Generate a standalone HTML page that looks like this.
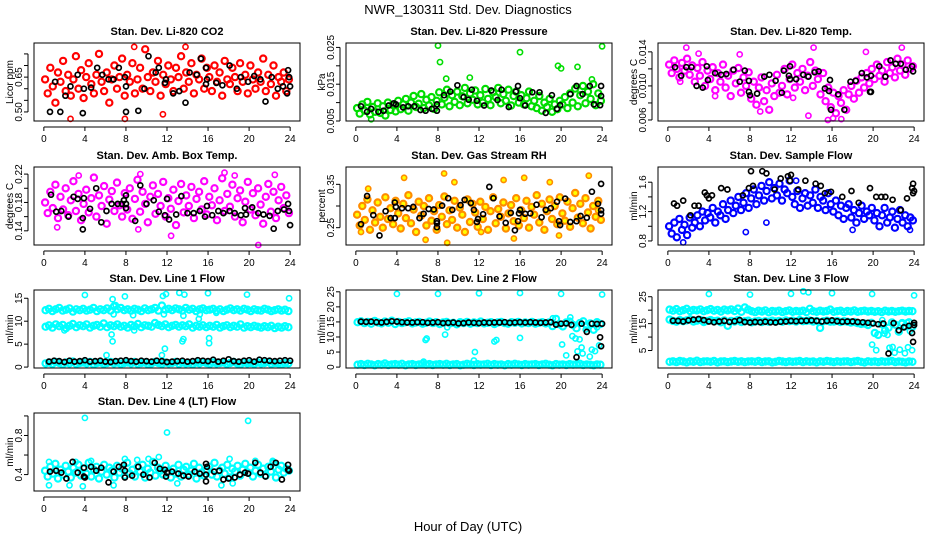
<!DOCTYPE html>
<html><head><meta charset="utf-8"><style>
html,body{margin:0;padding:0;background:#fff;}
svg{display:block;font-family:"Liberation Sans",sans-serif;}
</style></head><body>
<svg id="chart" width="936" height="540" viewBox="0 0 936 540" xmlns="http://www.w3.org/2000/svg">
<rect x="0" y="0" width="936" height="540" fill="#fff"/>
<text x="468" y="14" text-anchor="middle" font-size="13">NWR_130311  Std. Dev. Diagnostics</text>
<text x="468" y="531" text-anchor="middle" font-size="13">Hour of Day (UTC)</text>
</svg>
<script>
const xTickValues=[0,4,8,12,16,20,24];
const xTickLabels=['0','4','8','12','16','20','24'];

const co2Cloud=[0.64,0.58,0.69,0.61,0.54,0.67,0.63,0.72,0.59,0.66,0.57,0.64,0.74,0.60,0.68,0.56,0.65,0.71,0.62,0.58,0.66,0.75,0.63,0.59,
0.67,0.54,0.64,0.70,0.60,0.65,0.73,0.57,0.66,0.63,0.71,0.58,0.64,0.69,0.60,0.77,0.65,0.59,0.67,0.63,0.72,0.57,0.66,0.62,
0.70,0.64,0.59,0.69,0.65,0.74,0.60,0.67,0.63,0.71,0.58,0.66,0.64,0.73,0.60,0.69,0.65,0.59,0.70,0.63,0.67,0.57,0.72,0.64,
0.62,0.69,0.65,0.59,0.71,0.63,0.66,0.58,0.70,0.64,0.60,0.67,0.63,0.73,0.59,0.66,0.62,0.70,0.57,0.65,0.63,0.67,0.59,0.64];
const co2OutX=[2.6,8.8,13.8,7.9,11.6];
const co2OutY=[0.47,0.78,0.78,0.47,0.49];
const co2BlackX=[0.6,1.1,1.6,2.1,2.6,3.3,3.8,3.9,4.6,5.2,5.7,6.3,6.8,7.3,7.9,8.0,8.0,9.2,9.8,10.2,10.9,11.2,11.8,11.9,12.6,13.2,13.8,14.2,14.9,15.3,15.8,15.9,15.8,16.8,17.4,18.1,18.8,19.2,19.9,20.5,21.1,21.6,22.2,22.8,23.3,23.8,23.9,24.0,23.7];
const co2BlackY=[0.50,0.63,0.50,0.57,0.61,0.66,0.495,0.60,0.605,0.69,0.66,0.64,0.64,0.69,0.65,0.61,0.50,0.505,0.60,0.74,0.67,0.69,0.625,0.64,0.58,0.59,0.54,0.67,0.66,0.73,0.69,0.64,0.62,0.625,0.615,0.70,0.60,0.65,0.63,0.655,0.64,0.545,0.65,0.60,0.61,0.68,0.65,0.61,0.58];

const presCloud=[0.0085,0.0070,0.0095,0.0078,0.0102,0.0068,0.0088,0.0075,0.0098,0.0072,0.0090,0.0065,0.0100,0.0080,0.0093,0.0076,
0.0105,0.0082,0.0095,0.0110,0.0078,0.0100,0.0118,0.0088,0.0097,0.0123,0.0085,0.0108,0.0092,0.0115,0.0083,0.0105,
0.0128,0.0095,0.0113,0.0135,0.0090,0.0120,0.0102,0.0130,0.0093,0.0117,0.0140,0.0098,0.0125,0.0108,0.0133,0.0095,
0.0120,0.0100,0.0137,0.0110,0.0093,0.0128,0.0115,0.0140,0.0098,0.0123,0.0105,0.0135,0.0092,0.0118,0.0130,0.0100,
0.0120,0.0095,0.0112,0.0130,0.0090,0.0105,0.0085,0.0118,0.0078,0.0100,0.0088,0.0110,0.0075,0.0095,0.0082,0.0105,
0.0095,0.0115,0.0085,0.0125,0.0100,0.0138,0.0090,0.0120,0.0145,0.0098,0.0130,0.0110,0.0150,0.0093,0.0125,0.0105];
const presOutX=[8.0,8.2,16.0,19.7,20.0,21.6,24.0,1.5,11.1,8.8,23.0];
const presOutY=[0.0255,0.0210,0.0237,0.0200,0.0193,0.0197,0.0253,0.0055,0.0168,0.0165,0.0163];
const presBlackX=[0.5,1.1,1.5,2.2,2.7,3.2,3.7,3.9,4.6,5.1,5.7,6.3,6.8,7.4,7.9,7.9,8.6,9.2,9.9,10.5,11.0,11.3,11.8,12.5,13.2,13.8,14.2,14.9,15.6,15.8,16.0,16.5,17.2,17.9,18.5,19.1,19.6,19.9,20.9,21.5,22.1,22.8,23.2,23.8,23.9,23.9];
const presBlackY=[0.0090,0.0075,0.0083,0.0075,0.0078,0.0092,0.0098,0.0095,0.0087,0.0090,0.0090,0.0080,0.0078,0.0083,0.0095,0.0078,0.0120,0.0130,0.0147,0.0115,0.0108,0.0135,0.0105,0.0092,0.0133,0.0107,0.0135,0.0088,0.0130,0.0145,0.0112,0.0092,0.0128,0.0128,0.0072,0.0120,0.0083,0.0093,0.0123,0.0145,0.0123,0.0145,0.0095,0.0093,0.0118,0.0145];

const tempCloud=[0.0125,0.0115,0.0130,0.0120,0.0110,0.0127,0.0118,0.0132,0.0113,0.0124,0.0105,0.0121,0.0112,0.0128,0.0100,0.0118,
0.0108,0.0122,0.0095,0.0115,0.0105,0.0125,0.0098,0.0112,0.0088,0.0118,0.0103,0.0121,0.0092,0.0110,0.0100,0.0116,
0.0085,0.0105,0.0078,0.0098,0.0110,0.0082,0.0095,0.0072,0.0103,0.0088,0.0113,0.0092,0.0100,0.0120,0.0090,0.0108,
0.0125,0.0098,0.0115,0.0105,0.0120,0.0095,0.0112,0.0128,0.0100,0.0118,0.0108,0.0090,0.0115,0.0082,0.0098,0.0075,
0.0092,0.0068,0.0088,0.0080,0.0095,0.0072,0.0090,0.0100,0.0085,0.0106,0.0092,0.0110,0.0098,0.0115,0.0103,0.0120,
0.0108,0.0125,0.0112,0.0118,0.0105,0.0128,0.0115,0.0122,0.0110,0.0132,0.0118,0.0125,0.0113,0.0130,0.0120,0.0123];
const tempOutX=[1.8,3.0,7.0,9.0,13.7,14.2,15.6,16.1,16.9,19.3,22.8,1.2,4.6,12.2];
const tempOutY=[0.0145,0.0138,0.0137,0.0070,0.0065,0.0145,0.0060,0.0062,0.0061,0.0140,0.0145,0.0105,0.0088,0.0086];
const tempBlackX=[0.7,1.3,1.8,2.3,2.8,3.4,3.8,3.9,4.6,5.2,5.7,6.4,7.0,7.5,7.9,7.9,8.0,8.7,9.4,9.9,10.5,11.1,11.3,11.8,11.9,11.9,12.5,13.2,13.7,14.3,14.7,15.3,15.7,15.8,15.9,16.6,17.2,17.8,18.3,18.9,19.4,19.8,19.8,19.7,20.6,21.2,21.7,22.2,22.7,23.2,23.8,23.9];
const tempBlackY=[0.0122,0.0112,0.0122,0.0122,0.0100,0.0098,0.0123,0.0107,0.0115,0.0113,0.0114,0.0119,0.0105,0.0118,0.0106,0.0093,0.0089,0.0091,0.0111,0.0113,0.0106,0.0092,0.0118,0.0112,0.0108,0.0123,0.0108,0.0113,0.0111,0.0116,0.0117,0.0097,0.0094,0.0107,0.0072,0.0090,0.0072,0.0105,0.0106,0.0115,0.0110,0.0112,0.0093,0.0093,0.0123,0.0111,0.0130,0.0126,0.0126,0.0119,0.0123,0.0117];

const ambCloud=[0.180,0.165,0.195,0.172,0.205,0.158,0.188,0.170,0.200,0.162,0.183,0.210,0.168,0.192,0.155,0.178,
0.198,0.166,0.186,0.215,0.160,0.190,0.175,0.203,0.150,0.184,0.196,0.168,0.208,0.176,0.160,0.193,
0.170,0.200,0.157,0.185,0.212,0.167,0.195,0.178,0.152,0.188,0.204,0.164,0.192,0.175,0.209,0.160,
0.186,0.171,0.198,0.148,0.182,0.206,0.166,0.190,0.175,0.202,0.158,0.185,0.195,0.170,0.210,0.163,
0.188,0.176,0.200,0.155,0.183,0.214,0.168,0.192,0.174,0.205,0.160,0.186,0.197,0.152,0.181,0.209,
0.170,0.193,0.162,0.200,0.177,0.150,0.188,0.206,0.167,0.195,0.158,0.183,0.202,0.172,0.190,0.165];
const ambOutX=[1.3,3.4,9.4,12.4,17.6,20.9,22.5,18.6,9.2];
const ambOutY=[0.145,0.218,0.220,0.133,0.222,0.120,0.219,0.218,0.142];
const ambBlackX=[0.7,1.2,1.7,2.4,2.9,3.3,3.8,3.8,3.9,4.5,5.1,5.6,6.1,6.6,7.2,7.6,7.8,8.0,8.0,8.0,8.9,9.4,10.0,10.7,11.2,11.8,12.0,12.2,12.9,13.4,14.0,14.6,15.2,15.7,15.9,16.4,17.0,17.5,18.1,18.6,19.2,19.6,19.7,20.3,20.9,21.4,22.0,22.4,22.8,23.4,23.8,23.9,24.0];
const ambBlackY=[0.191,0.167,0.168,0.160,0.188,0.185,0.142,0.158,0.186,0.171,0.200,0.152,0.168,0.178,0.178,0.178,0.183,0.178,0.172,0.190,0.154,0.204,0.178,0.183,0.167,0.162,0.185,0.156,0.163,0.189,0.165,0.165,0.168,0.160,0.175,0.162,0.168,0.165,0.168,0.165,0.162,0.172,0.163,0.173,0.165,0.163,0.161,0.143,0.168,0.170,0.178,0.168,0.148];

const rhCloud=[0.280,0.255,0.300,0.268,0.315,0.245,0.290,0.262,0.308,0.275,0.250,0.320,0.270,0.295,0.258,0.312,
0.283,0.248,0.305,0.272,0.325,0.260,0.292,0.240,0.310,0.278,0.300,0.255,0.318,0.266,0.288,0.245,
0.302,0.275,0.322,0.258,0.290,0.268,0.312,0.250,0.296,0.280,0.240,0.315,0.263,0.305,0.285,0.252,
0.310,0.270,0.298,0.245,0.288,0.320,0.260,0.293,0.275,0.308,0.248,0.283,0.302,0.265,0.318,0.255,
0.290,0.272,0.312,0.250,0.298,0.280,0.325,0.262,0.305,0.245,0.288,0.315,0.270,0.300,0.258,0.320,
0.283,0.266,0.310,0.252,0.295,0.330,0.273,0.305,0.260,0.318,0.285,0.248,0.300,0.275,0.312,0.268];
const rhOutX=[0.5,1.2,4.7,6.8,8.6,8.9,9.6,14.4,15.4,16.4,18.9,22.7,23.6,12.2,19.8];
const rhOutY=[0.240,0.340,0.365,0.222,0.375,0.215,0.355,0.360,0.225,0.365,0.355,0.370,0.290,0.240,0.232];
const rhBlackX=[0.5,1.1,1.7,2.3,2.9,3.4,3.8,3.9,3.8,4.5,5.1,5.6,6.2,6.6,7.1,7.6,7.9,7.9,7.9,8.4,9.0,9.4,10.2,10.6,11.2,11.5,11.8,11.9,12.4,13.0,13.4,14.0,14.6,15.1,15.5,15.8,15.9,16.0,16.5,17.0,17.6,18.1,18.5,19.0,19.6,19.8,19.9,20.4,20.9,21.5,21.9,22.5,23.0,23.6,23.9,23.9,23.9];
const rhBlackY=[0.258,0.323,0.279,0.232,0.288,0.272,0.308,0.298,0.272,0.295,0.295,0.298,0.272,0.282,0.293,0.292,0.265,0.260,0.251,0.301,0.318,0.291,0.302,0.314,0.307,0.291,0.263,0.270,0.281,0.344,0.318,0.276,0.261,0.284,0.244,0.265,0.283,0.291,0.282,0.283,0.303,0.274,0.291,0.295,0.310,0.265,0.256,0.317,0.263,0.265,0.277,0.273,0.333,0.305,0.290,0.282,0.351];

const flowCloud=[1.00,0.90,1.05,0.85,1.10,0.95,1.02,0.88,1.12,0.98,1.05,1.15,1.00,1.20,1.08,1.18,
1.12,1.25,1.05,1.20,1.15,1.30,1.10,1.22,1.35,1.18,1.28,1.40,1.22,1.32,1.45,1.25,
1.38,1.50,1.30,1.42,1.55,1.35,1.48,1.60,1.38,1.52,1.42,1.58,1.35,1.50,1.45,1.62,
1.40,1.30,1.48,1.25,1.38,1.45,1.28,1.42,1.32,1.50,1.25,1.40,1.35,1.22,1.45,1.30,
1.20,1.35,1.15,1.28,1.10,1.25,1.30,1.12,1.22,1.05,1.18,1.28,1.10,1.20,1.15,1.25,
1.08,1.18,1.00,1.15,1.25,1.05,1.12,1.20,0.98,1.10,1.22,1.05,1.15,1.00,1.12,1.08];
const flowOutX=[1.5,7.6,9.6,18.0,23.6,12.5];
const flowOutY=[0.78,0.92,1.05,0.95,0.95,1.62];
const flowBlackX=[0.6,0.9,1.5,2.2,2.6,3.0,3.6,3.8,4.0,4.3,5.2,5.8,7.3,7.9,8.1,8.3,9.2,9.6,10.4,11.0,11.7,11.9,12.0,12.7,13.4,14.4,14.9,15.3,15.9,17.0,17.9,18.6,19.7,20.3,20.8,21.2,21.9,22.7,23.3,23.8,23.9,23.9,24.0];
const flowBlackY=[1.31,1.28,1.35,1.15,1.28,1.28,1.46,1.42,1.38,1.42,1.52,1.50,1.42,1.52,1.75,1.55,1.75,1.72,1.50,1.65,1.68,1.62,1.70,1.50,1.62,1.58,1.55,1.45,1.47,1.40,1.48,1.32,1.52,1.40,1.40,1.40,1.36,1.22,1.38,1.52,1.45,1.58,1.48];

const lineHours=[0.5,1.0,1.5,2.0,2.5,3.0,3.5,4.0,4.5,5.0,5.5,6.0,6.5,7.0,7.5,8.0,8.5,9.0,9.5,10.0,10.5,11.0,11.5,12.0,12.5,13.0,13.5,14.0,14.5,15.0,15.5,16.0,16.5,17.0,17.5,18.0,18.5,19.0,19.5,20.0,20.5,21.0,21.5,22.0,22.5,23.0,23.5,24.0];
const lowBand=[0.8,1.0,0.7,1.1,0.9,0.6,1.0,0.8,1.2,0.7,0.9,1.0,0.8,1.1,0.6,0.9,1.0,0.7,0.9,1.1,0.8,1.0,0.7,0.9,1.0,0.8,1.1,0.7,0.9,1.0,0.6,0.8,1.1,0.9,0.7,1.0,0.8,0.9,1.1,0.7,1.0,0.8,0.9,0.6,1.0,0.8,1.1,0.9,0.7,1.0,0.8,0.9,1.0,0.7,0.9,1.1,0.8,0.6,1.0,0.8,0.9,0.7,1.0,0.8,0.9,1.1,0.7,0.9,0.8,0.6,0.9,0.8];

const line1BandA=[12.4,12.7,12.2,12.6,12.9,12.3,12.5,12.8,12.1,12.6,12.4,12.7,12.3,12.5,12.9,12.2,12.6,12.4,12.8,12.3,13.2,12.6,12.9,12.4,12.6,12.3,12.7,12.5,12.2,12.8,12.4,12.6,12.9,12.3,13.4,12.5,12.7,12.4,12.8,12.6,12.3,12.9,12.5,12.7,12.2,12.6,12.8,12.4,12.5,12.7,12.3,12.6,12.2,12.5,12.8,12.4,12.6,12.3,12.7,12.5,12.2,12.6,12.4,12.3,12.7,12.5,12.2,12.4,12.6,12.3,12.5,12.2];
const line1BandB=[8.8,9.1,8.6,9.3,8.9,9.2,8.5,9.0,9.4,8.7,9.1,8.9,9.3,8.6,9.0,9.2,8.8,9.5,8.7,9.1,8.9,9.3,8.8,9.0,8.6,9.2,8.9,9.4,8.7,9.1,9.0,8.8,9.6,9.2,8.9,9.3,8.7,9.0,9.2,8.8,9.1,8.9,9.3,8.6,9.0,8.8,9.1,8.7,9.0,8.8,9.2,8.6,8.9,9.1,8.7,9.0,8.8,9.3,8.6,8.9,8.7,9.0,8.8,8.6,8.9,8.7,9.0,8.5,8.8,8.6,8.9,8.7];
const line1OutX=[4.0,6.7,6.8,6.6,6.7,6.1,7.9,8.7,11.6,11.9,11.7,11.8,11.5,13.2,13.7,13.6,13.5,13.6,15.1,15.2,16.0,16.1,16.1,16.8,19.8,23.9,7.0,2.0,8.8];
const line1OutY=[15.7,14.8,11.5,7.1,5.6,2.6,15.4,11.3,15.5,15.9,11.5,4.0,2.6,16.2,15.8,11.2,5.6,6.1,10.5,11.5,16.1,6.3,5.2,11.8,15.8,15.0,13.5,8.0,8.0];
const line1Black=[1.2,1.4,1.3,1.1,1.4,1.2,1.3,1.5,1.2,1.3,1.4,1.2,1.1,1.3,1.4,1.5,1.3,1.2,1.4,1.3,1.2,1.4,1.3,1.1,1.2,1.3,1.4,1.2,1.3,1.5,1.4,1.3,1.6,1.2,1.4,1.7,1.3,1.2,1.4,1.5,1.2,1.6,1.5,1.4,1.3,1.4,1.5,1.4];

const line2Band=[14.9,15.2,14.6,15.0,14.4,15.3,14.8,14.5,15.1,14.7,15.4,14.3,15.0,14.6,14.9,15.2,14.5,14.8,15.0,14.4,14.7,15.1,14.6,14.9,14.3,14.8,15.0,14.5,14.7,14.2,14.9,14.6,15.0,14.4,14.8,14.6,15.1,14.5,14.7,14.9,14.3,14.8,15.0,14.6,14.4,14.9,14.7,15.0,14.5,14.8,14.6,15.0,14.4,14.7,14.9,14.5,14.8,13.6,16.0,14.2,13.5,14.8,15.1,14.0,12.9,14.6,15.2,13.8,14.5,12.4,14.9,14.3];
const line2OutX=[4.0,8.0,12.0,16.0,20.0,24.0,6.8,6.9,8.7,8.9,11.6,11.5,6.6,13.5,13.7,16.0,19.2,20.1,20.5,20.9,21.1,21.4,21.6,21.8,22.0,22.1,22.4,22.8,23.0,23.3,23.5,23.7];
const line2OutY=[24.3,24.3,24.5,24.6,24.3,24.1,9.0,9.5,10.8,13.2,5.0,2.2,1.8,8.5,9.0,9.7,16.2,7.5,3.9,16.5,10.3,9.5,5.2,9.2,6.5,4.5,12.5,3.5,5.8,5.3,13.2,7.2];
const line2Black=[15.1,15.0,15.1,14.9,14.8,15.0,15.2,15.1,14.9,14.8,14.8,14.9,14.9,14.7,14.8,14.9,14.6,14.7,14.8,14.5,14.6,14.8,14.7,14.6,14.8,14.7,14.8,14.8,14.9,14.7,14.8,14.9,14.8,14.9,14.8,14.7,14.8,14.9,14.1,14.4,14.5,14.0,3.3,14.4,11.7,14.4,14.3,14.4];
const line2ExtraX=[23.8,23.9];
const line2ExtraY=[9.9,6.9];

const line3BandA=[20.2,19.8,20.4,19.6,20.0,20.5,19.7,20.1,19.9,20.3,19.6,20.0,20.4,19.8,20.1,19.5,20.2,19.9,20.3,19.7,20.6,19.4,21.0,20.2,19.6,19.3,19.8,19.5,19.9,19.2,19.7,19.5,19.8,19.3,19.6,19.9,19.4,19.7,19.5,19.8,19.3,20.5,19.6,19.4,19.8,19.5,19.7,20.2,19.4,19.6,19.8,19.3,19.7,19.5,19.9,19.4,19.6,19.8,19.5,19.7,19.4,19.6,19.3,19.8,19.5,19.7,19.4,19.6,19.8,19.5,19.7,19.6];
const line3BandB=[16.5,16.0,15.7,16.3,15.9,16.2,16.6,15.8,16.1,16.4,15.6,16.0,16.3,15.9,16.1,15.5,16.2,14.2,16.0,15.8,16.4,15.6,15.9,16.1,15.5,15.8,16.0,15.6,15.9,15.7,16.1,15.8,16.0,15.7,16.2,15.9,16.1,15.8,16.3,15.9,16.0,16.2,15.8,16.0,13.4,15.9,16.1,15.7,15.8,16.0,15.6,15.9,15.7,15.4,15.6,15.2,14.9,15.0,14.5,15.3,11.5,10.8,14.8,12.5,13.5,15.4,14.6,12.0,15.2,14.0,15.5,13.8];
const line3OutX=[4.0,8.0,12.0,13.2,13.7,16.0,19.9,24.0,19.9,20.3,20.9,21.1,21.4,21.6,21.9,22.1,22.6,23.1,23.4,23.6,23.8,22.8,23.3];
const line3OutY=[26.0,25.8,26.1,27.0,26.6,26.3,26.0,25.5,7.2,5.1,16.3,11.3,10.8,6.0,6.3,4.2,5.3,4.0,6.2,12.2,5.1,15.0,15.4];
const line3Black=[16.1,16.0,15.8,16.2,16.5,16.7,16.3,15.8,15.5,15.8,16.0,15.6,15.9,16.3,15.6,15.4,15.6,15.5,15.7,15.5,15.4,15.7,15.8,16.0,15.9,16.0,16.1,16.2,16.0,15.8,16.0,16.2,15.9,15.7,15.8,15.8,15.6,15.5,15.3,15.1,14.8,15.0,3.9,15.2,12.5,13.6,14.2,14.5];
const line3ExtraX=[23.8,23.9,24.0];
const line3ExtraY=[11.5,8.2,15.3];

const line4Cloud=[0.44,0.38,0.48,0.41,0.51,0.36,0.45,0.40,0.49,0.43,0.37,0.47,0.42,0.50,0.39,0.46,
0.41,0.52,0.38,0.45,0.48,0.36,0.43,0.50,0.40,0.47,0.44,0.37,0.49,0.42,0.46,0.39,
0.52,0.41,0.45,0.38,0.48,0.43,0.50,0.37,0.46,0.42,0.53,0.39,0.47,0.44,0.40,0.49,
0.43,0.37,0.46,0.41,0.50,0.38,0.45,0.48,0.40,0.44,0.51,0.36,0.47,0.42,0.39,0.45,
0.48,0.40,0.52,0.38,0.44,0.47,0.41,0.50,0.37,0.46,0.43,0.49,0.39,0.45,0.51,0.42,
0.47,0.38,0.44,0.50,0.41,0.46,0.39,0.48,0.43,0.52,0.37,0.45,0.49,0.42,0.46,0.44];
const line4OutX=[0.5,0.5,2.5,3.8,4.0,4.6,6.8,7.9,9.1,10.2,11.2,12.0,13.0,17.3,18.1,18.4,19.9,20.6,22.3,3.1];
const line4OutY=[0.53,0.29,0.29,0.28,0.98,0.54,0.29,0.56,0.55,0.56,0.58,0.83,0.31,0.29,0.56,0.31,0.95,0.54,0.54,0.53];
const line4BlackX=[0.6,1.2,1.7,2.2,2.8,3.3,3.9,3.9,4.0,4.6,5.1,5.6,6.3,6.8,7.3,7.8,7.9,7.9,8.6,9.2,9.7,10.3,10.8,11.3,11.8,11.9,12.0,12.5,13.1,13.6,14.1,14.7,15.2,15.8,15.9,15.8,15.8,16.6,17.1,17.5,18.0,18.6,19.1,19.6,19.9,20.6,21.1,21.6,22.1,22.6,23.2,23.8,23.8,23.9];
const line4BlackY=[0.43,0.44,0.42,0.36,0.53,0.42,0.47,0.38,0.37,0.48,0.44,0.47,0.32,0.43,0.48,0.50,0.44,0.37,0.39,0.48,0.40,0.37,0.52,0.46,0.45,0.38,0.42,0.43,0.41,0.39,0.38,0.43,0.41,0.51,0.48,0.40,0.33,0.43,0.44,0.35,0.36,0.37,0.40,0.42,0.41,0.52,0.42,0.38,0.48,0.52,0.35,0.50,0.45,0.44];

const NS='http://www.w3.org/2000/svg';
const svg=document.getElementById('chart');
const COLX=[34,346,658], BOXW=266, ROWY=[43,167,290,413], BOXH=78;

const panels=[
 {name:'co2',col:0,row:0,title:'Stan. Dev. Li-820 CO2',ylab:'Licor ppm',lo:0.461,hi:0.797,ticks:[0.50,0.55,0.60,0.65,0.70,0.75],labels:['0.50','','','0.65','',''],color:'#ff0000',clouds:[co2Cloud],outX:co2OutX,outY:co2OutY,bx:co2BlackX,by:co2BlackY},
 {name:'pressure',col:1,row:0,title:'Stan. Dev. Li-820 Pressure',ylab:'kPa',lo:0.005,hi:0.0262,ticks:[0.005,0.010,0.015,0.020,0.025],labels:['0.005','','0.015','','0.025'],color:'#00dd00',clouds:[presCloud],outX:presOutX,outY:presOutY,bx:presBlackX,by:presBlackY},
 {name:'temp',col:2,row:0,title:'Stan. Dev. Li-820 Temp.',ylab:'degrees C',lo:0.00588,hi:0.01504,ticks:[0.006,0.008,0.010,0.012,0.014],labels:['0.006','','0.010','','0.014'],color:'#ff00ff',clouds:[tempCloud],outX:tempOutX,outY:tempOutY,bx:tempBlackX,by:tempBlackY},
 {name:'amb-box-temp',col:0,row:1,title:'Stan. Dev. Amb. Box Temp.',ylab:'degrees C',lo:0.12,hi:0.23,ticks:[0.14,0.16,0.18,0.20,0.22],labels:['0.14','','0.18','','0.22'],color:'#ff00ff',clouds:[ambCloud],outX:ambOutX,outY:ambOutY,bx:ambBlackX,by:ambBlackY},
 {name:'gas-rh',col:1,row:1,title:'Stan. Dev. Gas Stream RH',ylab:'percent',lo:0.21,hi:0.39,ticks:[0.25,0.30,0.35],labels:['0.25','','0.35'],color:'#ff8c00',fill:'#ffff00',clouds:[rhCloud],outX:rhOutX,outY:rhOutY,bx:rhBlackX,by:rhBlackY},
 {name:'sample-flow',col:2,row:1,title:'Stan. Dev. Sample Flow',ylab:'ml/min',lo:0.745,hi:1.807,ticks:[0.8,1.0,1.2,1.4,1.6],labels:['0.8','','1.2','','1.6'],color:'#0000ff',clouds:[flowCloud],outX:flowOutX,outY:flowOutY,bx:flowBlackX,by:flowBlackY},
 {name:'line1-flow',col:0,row:2,title:'Stan. Dev. Line 1 Flow',ylab:'ml/min',lo:-0.2,hi:16.8,ticks:[0,5,10,15],labels:['0','5','10','15'],color:'#00ffff',clouds:[line1BandA,line1BandB,lowBand],outX:line1OutX,outY:line1OutY,bx:lineHours,by:line1Black},
 {name:'line2-flow',col:1,row:2,title:'Stan. Dev. Line 2 Flow',ylab:'ml/min',lo:-0.3,hi:25.6,ticks:[0,5,10,15,20,25],labels:['0','5','10','15','20','25'],color:'#00ffff',clouds:[line2Band,lowBand],outX:line2OutX,outY:line2OutY,bx:lineHours.concat(line2ExtraX),by:line2Black.concat(line2ExtraY)},
 {name:'line3-flow',col:2,row:2,title:'Stan. Dev. Line 3 Flow',ylab:'ml/min',lo:-1.5,hi:27.5,ticks:[5,10,15,20,25],labels:['5','','15','','25'],color:'#00ffff',clouds:[line3BandA,line3BandB,lowBand],outX:line3OutX,outY:line3OutY,bx:lineHours.concat(line3ExtraX),by:line3Black.concat(line3ExtraY)},
 {name:'line4-flow',col:0,row:3,title:'Stan. Dev. Line 4 (LT) Flow',ylab:'ml/min',lo:0.232,hi:1.03,ticks:[0.4,0.6,0.8,1.0],labels:['0.4','','0.8',''],color:'#00ffff',clouds:[line4Cloud],outX:line4OutX,outY:line4OutY,bx:line4BlackX,by:line4BlackY}
];

function mk(tag,attrs,parent){const e=document.createElementNS(NS,tag);for(const k in attrs)e.setAttribute(k,attrs[k]);(parent||svg).appendChild(e);return e;}

panels.forEach(p=>{
  const x0=COLX[p.col], y0=ROWY[p.row];
  const g=mk('g',{});
  
  
  const xs=h=>x0+BOXW*(h+0.96)/25.92;
  const ys=v=>y0+BOXH-(v-p.lo)/(p.hi-p.lo)*BOXH;
  const t=mk('text',{x:x0+BOXW/2,y:y0-8,'text-anchor':'middle','font-size':'11','font-weight':'bold'},g);
  t.textContent=p.title;
  
  
  const yl=mk('text',{x:0,y:0,'text-anchor':'middle','font-size':'10',transform:`translate(${x0-21},${y0+BOXH/2}) rotate(-90)`},g);
  yl.textContent=p.ylab;
  
  
  const pts=mk('g',{fill:p.fill||'none',stroke:p.color,'stroke-width':'2.2'},g);
  
  
  p.clouds.forEach(arr=>{
    arr.forEach((v,i)=>{
      const h=(i+0.5)*24/arr.length;
      const c=mk('circle',{cx:xs(h).toFixed(1),cy:ys(v).toFixed(1),r:'3.1'},pts);
      
      
    });
  });
  p.outX.forEach((h,i)=>{
    const c=mk('circle',{cx:xs(h).toFixed(1),cy:ys(p.outY[i]).toFixed(1),r:'2.6','stroke-width':'1.6'},pts);
    
    
  });
  const bp=mk('g',{fill:'none',stroke:'#000','stroke-width':'1.7'},g);
  
  
  p.bx.forEach((h,i)=>{
    const c=mk('circle',{cx:xs(h).toFixed(1),cy:ys(p.by[i]).toFixed(1),r:'2.5'},bp);
    
    
  });
  const box=mk('rect',{x:x0,y:y0,width:BOXW,height:BOXH,fill:'none',stroke:'#000','stroke-width':'1'},g);
  
  
  const xa=mk('g',{},g);
  
  
  mk('line',{x1:xs(0),x2:xs(24),y1:y0+BOXH+6,y2:y0+BOXH+6,stroke:'#000'},xa);
  xTickValues.forEach((h,i)=>{
    mk('line',{x1:xs(h),x2:xs(h),y1:y0+BOXH+6,y2:y0+BOXH+10,stroke:'#000'},xa);
    const tl=mk('text',{x:xs(h),y:y0+BOXH+21,'text-anchor':'middle','font-size':'10'},xa);
    tl.textContent=xTickLabels[i];
  });
  const ya=mk('g',{},g);
  
  
  const tf=p.ticks[0], tlst=p.ticks[p.ticks.length-1];
  mk('line',{x1:x0-6,x2:x0-6,y1:ys(tf),y2:ys(tlst),stroke:'#000'},ya);
  p.ticks.forEach((v,i)=>{
    mk('line',{x1:x0-10,x2:x0-6,y1:ys(v),y2:ys(v),stroke:'#000'},ya);
    if(p.labels[i]){
      const tl=mk('text',{x:0,y:0,'text-anchor':'middle','font-size':'10',transform:`translate(${x0-12},${ys(v).toFixed(1)}) rotate(-90)`},ya);
      tl.textContent=p.labels[i];
    }
  });
});
</script>
</body></html>
